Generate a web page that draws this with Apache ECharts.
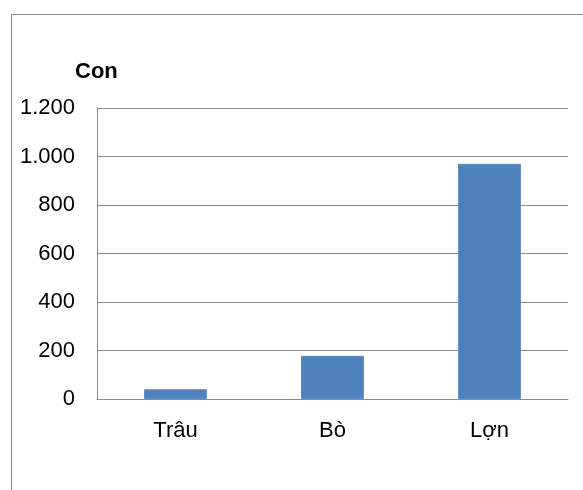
<!DOCTYPE html>
<html>
<head>
<meta charset="utf-8">
<script src="https://cdn.jsdelivr.net/npm/echarts@6/dist/echarts.min.js"></script>
<style>
  html, body { margin: 0; padding: 0; background: #fff; }
  #chart { width: 583px; height: 490px; }
</style>
</head>
<body>
<div id="chart"></div>
<script>
// Livestock head counts
const categories = ['Trâu', 'Bò', 'Lợn'];
const values = [40, 178, 970];
const yTicks = { min: 0, max: 1200, step: 200 };
const unitLabel = 'Con';

const fontFamily = 'Liberation Sans, Arial, sans-serif';

const chart = echarts.init(document.getElementById('chart'), null, { renderer: 'canvas' });

chart.setOption({
  backgroundColor: '#ffffff',
  animation: false,
  graphic: [
    {
      type: 'rect',
      shape: { x: 11.5, y: 14.5, width: 620, height: 520 },
      style: { fill: 'none', stroke: '#8a8a8a', lineWidth: 1 },
      silent: true
    },
    {
      type: 'text',
      left: 75,
      top: 61,
      style: {
        text: unitLabel,
        fontFamily: fontFamily,
        fontSize: 22,
        fontWeight: 'bold',
        fill: '#000'
      }
    }
  ],
  grid: { left: 97, right: 15, top: 108, bottom: 91, containLabel: false },
  xAxis: {
    type: 'category',
    data: categories,
    axisLine: { show: true, lineStyle: { color: '#8a8a8a', width: 1 } },
    axisTick: { show: false },
    axisLabel: {
      color: '#000',
      fontFamily: fontFamily,
      fontSize: 22,
      margin: 21
    }
  },
  yAxis: {
    type: 'value',
    min: yTicks.min,
    max: yTicks.max,
    interval: yTicks.step,
    axisLine: { show: true, lineStyle: { color: '#8a8a8a', width: 1 } },
    axisTick: { show: false },
    splitLine: { show: true, lineStyle: { color: '#8a8a8a', width: 1 } },
    axisLabel: {
      color: '#000',
      fontFamily: fontFamily,
      fontSize: 22,
      margin: 22,
      verticalAlign: 'middle',
      padding: [3, 0, 0, 0],
      formatter: v => v.toLocaleString('de-DE')
    }
  },
  series: [
    {
      type: 'bar',
      data: values,
      barWidth: '40%',
      itemStyle: { color: '#4f81bd', borderColor: '#5b8ac4', borderWidth: 1 }
    }
  ]
});
</script>
</body>
</html>
